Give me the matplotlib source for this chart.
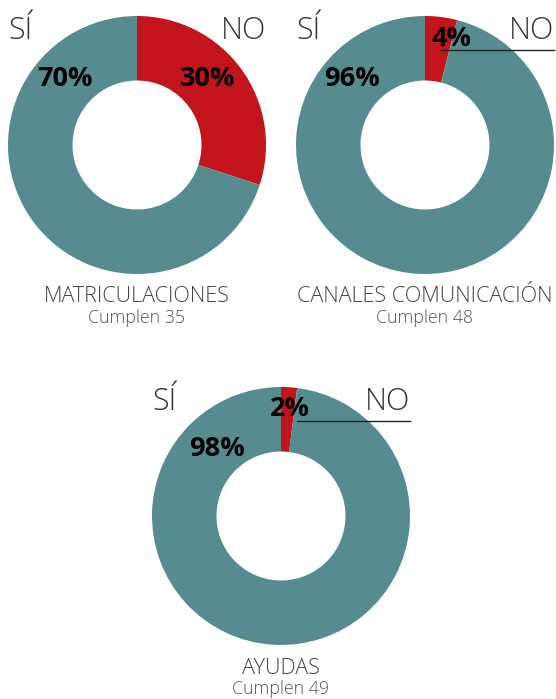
import matplotlib
matplotlib.use('Agg')
import matplotlib.pyplot as plt

# ---- Data ------------------------------------------------
titles = ['MATRICULACIONES', 'CANALES COMUNICACIÓN', 'AYUDAS']
cumplen = [35, 48, 49]
no_pct = [30, 4, 2]
si_pct = [70, 96, 98]

# ---- Style -----------------------------------------------
teal = '#568b90'
red = '#c3131b'
W, H = 556, 699
font = 'Open Sans'

fig = plt.figure(figsize=(W / 100, H / 100), dpi=100)

# donut centres (px), radius
centres = [(137, 145), (425, 145), (281, 516)]
R = 129

for i, (cx, cy) in enumerate(centres):
    ax = fig.add_axes([(cx - R) / W, 1 - (cy + R) / H, 2 * R / W, 2 * R / H])
    ax.pie([no_pct[i], si_pct[i]], colors=[red, teal], startangle=90,
           counterclock=False, radius=1,
           wedgeprops=dict(width=0.5, linewidth=0))
    ax.set_xlim(-1, 1)
    ax.set_ylim(-1, 1)
    ax.set_aspect('auto')
    ax.axis('off')

# overlay axis for text and lines (on top of the donuts)
bg = fig.add_axes([0, 0, 1, 1])
bg.set_xlim(0, W)
bg.set_ylim(H, 0)
bg.patch.set_alpha(0)
bg.axis('off')

for i, (cx, cy) in enumerate(centres):
    # SÍ / NO headers
    bg.text(cx - R, cy - 114, 'SÍ', fontsize=22, family=font, weight='light',
            color='#333333', ha='left', va='center')
    bg.text(cx + R, cy - 114, 'NO', fontsize=22, family=font, weight='light',
            color='#333333', ha='right', va='center')

    # titles
    bg.text(cx, cy + 152, titles[i], fontsize=15.5, family=font, weight='light',
            color='#444444', ha='center', va='center')
    bg.text(cx, cy + 173, 'Cumplen %d' % cumplen[i], fontsize=12.8, family=font,
            weight='light', color='#555555', ha='center', va='center')

# percentage labels
pct_pos = [((65, 79), (208, 79)), ((352, 79), (452, 39)), ((217, 449), (290, 409))]
for i, (si_xy, no_xy) in enumerate(pct_pos):
    bg.text(si_xy[0], si_xy[1], '%d%%' % si_pct[i], fontsize=19.5, family=font,
            weight='bold', ha='center', va='center')
    bg.text(no_xy[0], no_xy[1], '%d%%' % no_pct[i], fontsize=19.5, family=font,
            weight='bold', ha='center', va='center')

# leader lines under NO
bg.plot([441, 554], [50, 50], color='#222222', lw=1)
bg.plot([297, 410], [421, 421], color='#222222', lw=1)

fig.savefig('out.png', dpi=100)
